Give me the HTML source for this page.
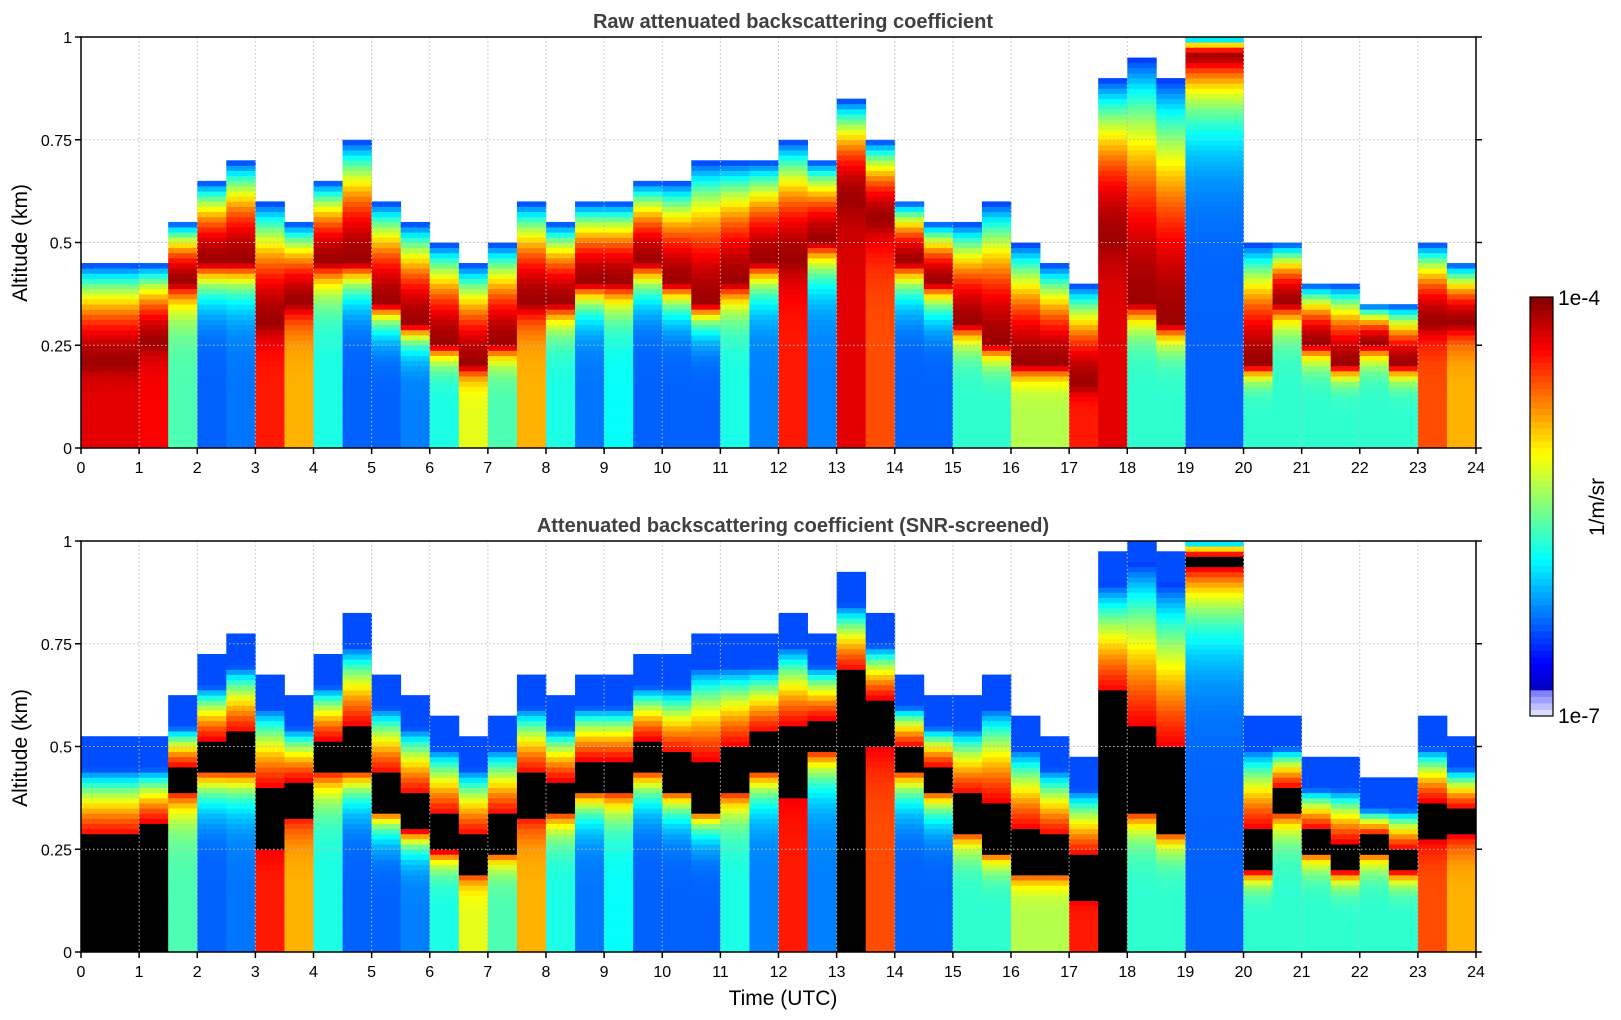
<!DOCTYPE html>
<html><head><meta charset="utf-8"><style>
body{margin:0;background:#fff;}
svg{display:block;font-family:"Liberation Sans","DejaVu Sans",sans-serif;}
</style></head><body>
<svg id="chart" width="1621" height="1020" viewBox="0 0 1621 1020">
<text x="793" y="28" text-anchor="middle" font-size="20" font-weight="bold" fill="#404040">Raw attenuated backscattering coefficient</text>
<text x="793" y="532" text-anchor="middle" font-size="20" font-weight="bold" fill="#404040">Attenuated backscattering coefficient (SNR-screened)</text>
<text x="783" y="1005" text-anchor="middle" font-size="21" fill="#000">Time (UTC)</text>
<text transform="translate(27,243) rotate(-90)" text-anchor="middle" font-size="21">Altitude (km)</text>
<text transform="translate(27,748) rotate(-90)" text-anchor="middle" font-size="21">Altitude (km)</text>
<g id="plots"></g>
<g id="cbar"></g>
<text x="1558" y="305" font-size="21">1e-4</text>
<text x="1558" y="723" font-size="21">1e-7</text>
<text transform="translate(1604,507) rotate(-90)" text-anchor="middle" font-size="21">1/m/sr</text>
</svg>
<script>
// half-hour bins, 0..24 h
const hours = Array.from({length:25},(_,i)=>i);
const altTicks = [0,0.25,0.5,0.75,1];
const altTickLabels = ["0","0.25","0.5","0.75","1"];
// surface log-normalized value (0 = 1e-7, 1 = 1e-4)
const surfVal = [0.9,0.9,0.88,0.45,0.22,0.24,0.85,0.7,0.4,0.22,0.22,0.25,0.4,0.6,0.45,0.7,0.4,0.24,0.38,0.22,0.22,0.22,0.4,0.25,0.85,0.25,0.9,0.8,0.22,0.22,0.42,0.42,0.55,0.55,0.85,0.9,0.42,0.42,0.22,0.22,0.42,0.42,0.42,0.42,0.42,0.42,0.8,0.7];
// altitude of the dense aerosol layer (km)
const peakAlt = [0.2,0.2,0.25,0.4,0.45,0.45,0.3,0.35,0.45,0.45,0.35,0.3,0.25,0.2,0.25,0.35,0.35,0.4,0.4,0.45,0.4,0.35,0.4,0.45,0.45,0.5,0.6,0.55,0.45,0.4,0.3,0.25,0.2,0.2,0.15,0.5,0.35,0.3,0.95,0.95,0.2,0.35,0.25,0.2,0.25,0.2,0.3,0.3];
// altitude of signal top (km)
const topAlt = [0.45,0.45,0.45,0.55,0.65,0.7,0.6,0.55,0.65,0.75,0.6,0.55,0.5,0.45,0.5,0.6,0.55,0.6,0.6,0.65,0.65,0.7,0.7,0.7,0.75,0.7,0.85,0.75,0.6,0.55,0.55,0.6,0.5,0.45,0.4,0.9,0.95,0.9,1.0,1.0,0.5,0.5,0.4,0.4,0.35,0.35,0.5,0.45];

const NS="http://www.w3.org/2000/svg";
const X0=81, X1=1476;
const panels=[{top:37,bot:448,snr:false,name:'raw'},{top:541,bot:952,snr:true,name:'snr'}];
const xs=h=>X0+(h/24)*(X1-X0);

function jet(v){
  if(v<0.06){const t=v/0.06;return [Math.round(235-(235-120)*t),Math.round(235-(235-120)*t),255];}
  const f=(x)=>Math.max(0,Math.min(1,x));
  const r=f(1.5-Math.abs(4*v-3)), g=f(1.5-Math.abs(4*v-2)), b=f(1.5-Math.abs(4*v-1));
  return [Math.round(r*255),Math.round(g*255),Math.round(b*255)];
}
function val(i,z){
  const s=surfVal[i],p=peakAlt[i],t=topAlt[i];
  if(z<p) return s+(0.97-s)*Math.pow(z/p,7);
  if(z<t) return 0.97-0.8*Math.pow((z-p)/(t-p),2);
  return NaN;
}
const plots=document.getElementById('plots');
panels.forEach(P=>{
  const g=document.createElementNS(NS,'g');
  
  
  const ys=z=>P.bot-z*(P.bot-P.top);
  const nRows=80, dz=1/nRows;
  for(let i=0;i<surfVal.length;i++){
    for(let r=0;r<nRows;r++){
      const z=(r+0.5)*dz;
      let v=val(i,z), col;
      if(isNaN(v)){
        if(P.snr && z<topAlt[i]+0.08) v=0.2; else continue;
      }
      if(P.snr && v>0.88) col='#000';
      else {const c=jet(v); col=`rgb(${c[0]},${c[1]},${c[2]})`;}
      const rc=document.createElementNS(NS,'rect');
      const x0=xs(i*0.5), x1=xs((i+1)*0.5);
      rc.setAttribute('x',x0.toFixed(2)); rc.setAttribute('width',(x1-x0+0.4).toFixed(2));
      rc.setAttribute('y',(ys(z+dz/2)).toFixed(2)); rc.setAttribute('height',((P.bot-P.top)*dz+0.4).toFixed(2));
      rc.setAttribute('fill',col);
      
      
      g.appendChild(rc);
    }
  }
  plots.appendChild(g);
  hours.forEach((h,k)=>{
    const x=xs(h);
    if(k>0&&k<24){const l=document.createElementNS(NS,'line');
      l.setAttribute('x1',x);l.setAttribute('x2',x);l.setAttribute('y1',P.top);l.setAttribute('y2',P.bot);
      l.setAttribute('stroke','#bbb');l.setAttribute('stroke-dasharray','1.5,2.5');
      
      
      plots.appendChild(l);}
    const tk=document.createElementNS(NS,'line');
    tk.setAttribute('x1',x);tk.setAttribute('x2',x);tk.setAttribute('y1',P.bot);tk.setAttribute('y2',P.bot+6);
    tk.setAttribute('stroke','#000');tk.setAttribute('stroke-width','1.5');
    
    
    plots.appendChild(tk);
    const t=document.createElementNS(NS,'text');
    t.setAttribute('x',x);t.setAttribute('y',P.bot+25);t.setAttribute('text-anchor','middle');t.setAttribute('font-size','16');
    t.textContent=h;
    
    
    plots.appendChild(t);
  });
  altTicks.forEach((a,k)=>{
    const y=ys(a);
    if(k>0&&k<4){const l=document.createElementNS(NS,'line');
      l.setAttribute('x1',X0);l.setAttribute('x2',X1);l.setAttribute('y1',y);l.setAttribute('y2',y);
      l.setAttribute('stroke','#bbb');l.setAttribute('stroke-dasharray','1.5,2.5');
      
      
      plots.appendChild(l);}
    [[X0-6,X0],[X1,X1+6]].forEach(([a1,a2])=>{
      const tk=document.createElementNS(NS,'line');
      tk.setAttribute('x1',a1);tk.setAttribute('x2',a2);tk.setAttribute('y1',y);tk.setAttribute('y2',y);
      tk.setAttribute('stroke','#000');tk.setAttribute('stroke-width','1.5');
      
      
      plots.appendChild(tk);});
    const t=document.createElementNS(NS,'text');
    t.setAttribute('x',X0-9);t.setAttribute('y',y+6);t.setAttribute('text-anchor','end');t.setAttribute('font-size','16');
    t.textContent=altTickLabels[k];
    
    
    plots.appendChild(t);
  });
  const fr=document.createElementNS(NS,'rect');
  fr.setAttribute('x',X0);fr.setAttribute('y',P.top);fr.setAttribute('width',X1-X0);fr.setAttribute('height',P.bot-P.top);
  fr.setAttribute('fill','none');fr.setAttribute('stroke','#000');fr.setAttribute('stroke-width','1.5');
  
  
  plots.appendChild(fr);
});
const cb=document.getElementById('cbar');
const CT=297,CB=716,CX=1530,CW=23,N=64;
for(let k=0;k<N;k++){
  const v=(k+0.5)/N, c=jet(v);
  const r=document.createElementNS(NS,'rect');
  r.setAttribute('x',CX);r.setAttribute('width',CW);
  r.setAttribute('y',(CB-(k+1)*(CB-CT)/N).toFixed(2));r.setAttribute('height',((CB-CT)/N+0.5).toFixed(2));
  r.setAttribute('fill',`rgb(${c[0]},${c[1]},${c[2]})`);
  
  
  cb.appendChild(r);
}
const cf=document.createElementNS(NS,'rect');
cf.setAttribute('x',CX);cf.setAttribute('y',CT);cf.setAttribute('width',CW);cf.setAttribute('height',CB-CT);
cf.setAttribute('fill','none');cf.setAttribute('stroke','#000');cf.setAttribute('stroke-width','1.2');


cb.appendChild(cf);
</script>
</body></html>
